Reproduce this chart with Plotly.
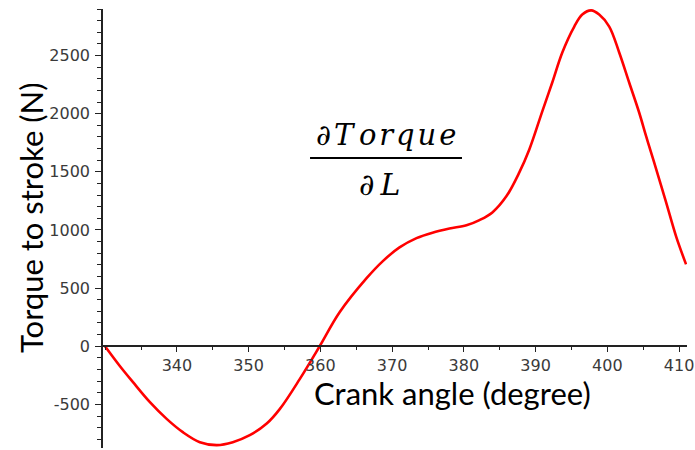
import plotly.graph_objects as go

# Crank angle (degree)
crank_angle = [329.98, 332.07, 333.88, 336.24, 338.61, 340.83, 343.20, 345.57, 347.79, 350.16,
               352.52, 354.33, 357.12, 359.90, 362.68, 366.44, 368.67, 371.03,
               373.40, 375.63, 377.99, 380.36, 382.17, 383.97, 385.92, 387.73, 389.12,
               390.93, 392.32, 393.72, 395.39, 396.50, 397.75, 398.86, 400.26, 401.65, 403.04,
               404.43, 405.41, 406.52, 408.19, 409.58, 410.97]
# Torque to stroke (N)
torque_to_stroke = [0, -172, -309, -481, -627, -739, -825, -850, -825, -765,
                    -665, -541, -283, 0, 292, 585, 730, 850,
                    930, 977, 1012, 1040, 1085, 1151, 1289, 1495, 1692,
                    2020, 2268, 2526, 2749, 2852, 2888, 2852, 2749, 2526, 2268,
                    2010, 1804, 1581, 1237, 945, 704]

x_ticks = [340, 350, 360, 370, 380, 390, 400, 410]
y_ticks = [-500, 0, 500, 1000, 1500, 2000, 2500]
x_range = [329.7, 411.1]
y_range = [-875, 2900]

fig = go.Figure()
fig.add_trace(go.Scatter(x=crank_angle, y=torque_to_stroke, mode="lines",
                         line=dict(color="#ff0000", width=2.6, shape="spline", smoothing=1.0),
                         showlegend=False, hoverinfo="skip"))

tick_font = dict(family="DejaVu Sans", size=16, color="#3a3a3a")
x_pos = (0 - y_range[0]) / (y_range[1] - y_range[0])

fig.update_layout(
    width=695, height=450,
    margin=dict(l=103, r=8, t=9, b=2),
    paper_bgcolor="white", plot_bgcolor="white",
    xaxis=dict(range=x_range, tickvals=x_ticks, ticktext=[str(v) for v in x_ticks],
               showgrid=False, zeroline=False, showline=True, linecolor="#222", linewidth=1.5,
               ticks="outside", ticklen=5, tickwidth=1.2, tickcolor="#222",
               minor=dict(dtick=5, tick0=0, ticks="outside", ticklen=3, tickcolor="#222", tickwidth=1),
               tickfont=tick_font, anchor="free", position=x_pos),
    yaxis=dict(range=y_range, tickvals=y_ticks, ticktext=[str(v) for v in y_ticks],
               showgrid=False, zeroline=False, showline=True, linecolor="#222", linewidth=1.5,
               ticks="outside", ticklen=6, tickwidth=1.2, tickcolor="#222",
               minor=dict(dtick=100, tick0=0, ticks="outside", ticklen=4, tickcolor="#222", tickwidth=1),
               tickfont=tick_font, ticklabelstandoff=2),
)

fig.add_annotation(text="Torque to stroke (N)", xref="paper", yref="paper", x=-0.1233, y=0.524,
                   textangle=-90, showarrow=False, xanchor="center", yanchor="middle",
                   font=dict(family="Lato", size=31, color="black"))
fig.add_annotation(text="Crank angle (degree)", xref="paper", yref="paper", x=0.598, y=0.0,
                   showarrow=False, xanchor="center", yanchor="bottom", yshift=34,
                   font=dict(family="Lato", size=31, color="black"))
fig.add_annotation(text="<i>∂\u200aT\u2009o\u200ar\u200aq\u200au\u200ae</i>", xref="paper", yref="paper",
                   x=0.4846, y=0.712,
                   showarrow=False, xanchor="center", yanchor="middle",
                   font=dict(family="DejaVu Serif", size=29, color="black"))
fig.add_annotation(text="<i>∂\u2009L</i>", xref="paper", yref="paper", x=0.4743, y=0.601,
                   showarrow=False, xanchor="center", yanchor="middle",
                   font=dict(family="DejaVu Serif", size=30, color="black"))
fig.add_shape(type="line", xref="paper", yref="paper", x0=0.3545, x1=0.6147, y0=0.6606, y1=0.6606,
              line=dict(color="black", width=2))

fig.write_html("out.html")
